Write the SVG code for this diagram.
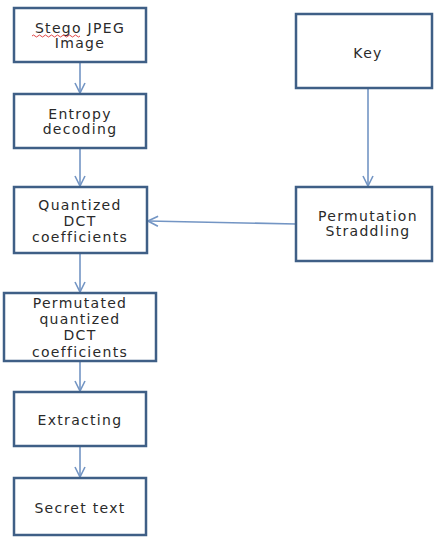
<svg xmlns="http://www.w3.org/2000/svg" width="436" height="539" viewBox="0 0 436 539">
<style>
.box{fill:#fff;stroke:#3f5f86;stroke-width:2.5}
.t{font-family:"DejaVu Sans",sans-serif;font-size:14px;fill:#2a2a2a;text-anchor:middle;letter-spacing:1.3px}
.c{stroke:#7395c4;stroke-width:1.6;fill:none}
</style>
<defs>
<marker id="ah" viewBox="0 0 12 12" refX="11" refY="6" markerWidth="12" markerHeight="12" markerUnits="userSpaceOnUse" orient="auto">
<path d="M1,1 L11,6 L1,11" fill="none" stroke="#7395c4" stroke-width="1.6"/>
</marker>
</defs>
<rect width="436" height="539" fill="#fff"/>
<g id="connectors">
<line class="c" x1="80" y1="62" x2="80" y2="93" marker-end="url(#ah)"/>
<line class="c" x1="80" y1="148" x2="80" y2="186" marker-end="url(#ah)"/>
<line class="c" x1="80" y1="253" x2="80" y2="292" marker-end="url(#ah)"/>
<line class="c" x1="80" y1="361" x2="80" y2="391" marker-end="url(#ah)"/>
<line class="c" x1="80" y1="446" x2="80" y2="477" marker-end="url(#ah)"/>
<line class="c" x1="368" y1="88" x2="368" y2="186" marker-end="url(#ah)"/>
<line class="c" x1="296" y1="224" x2="148" y2="221" marker-end="url(#ah)"/>
</g>
<g id="n1"><rect class="box" x="14" y="8" width="132" height="54"/>
<text class="t" x="80" y="33">Stego JPEG</text><text class="t" x="80" y="48">Image</text>
<path d="M32,36 q1.5,-2 3,0 t3,0 t3,0 t3,0 t3,0 t3,0 t3,0 t3,0 t3,0 t3,0 t3,0 t3,0 t3,0 t3,0 t3,0 t3,0" fill="none" stroke="#d33" stroke-width="0.9"/></g>
<g id="n2"><rect class="box" x="14" y="94" width="132" height="54"/>
<text class="t" x="80" y="119">Entropy</text><text class="t" x="80" y="134">decoding</text></g>
<g id="n3"><rect class="box" x="14" y="187" width="133" height="66"/>
<text class="t" x="80" y="210">Quantized</text><text class="t" x="80" y="226">DCT</text><text class="t" x="80" y="242">coefficients</text></g>
<g id="n4"><rect class="box" x="4" y="293" width="152" height="68"/>
<text class="t" x="80" y="308">Permutated</text><text class="t" x="80" y="324">quantized</text><text class="t" x="80" y="340">DCT</text><text class="t" x="80" y="357">coefficients</text></g>
<g id="n5"><rect class="box" x="14" y="392" width="132" height="54"/>
<text class="t" x="80" y="425">Extracting</text></g>
<g id="n6"><rect class="box" x="14" y="478" width="132" height="57"/>
<text class="t" x="80" y="513">Secret text</text></g>
<g id="n7"><rect class="box" x="296" y="14" width="136" height="74"/>
<text class="t" x="368" y="58">Key</text></g>
<g id="n8"><rect class="box" x="296" y="187" width="136" height="74"/>
<text class="t" x="368" y="221">Permutation</text><text class="t" x="368" y="236">Straddling</text></g>
</svg>
